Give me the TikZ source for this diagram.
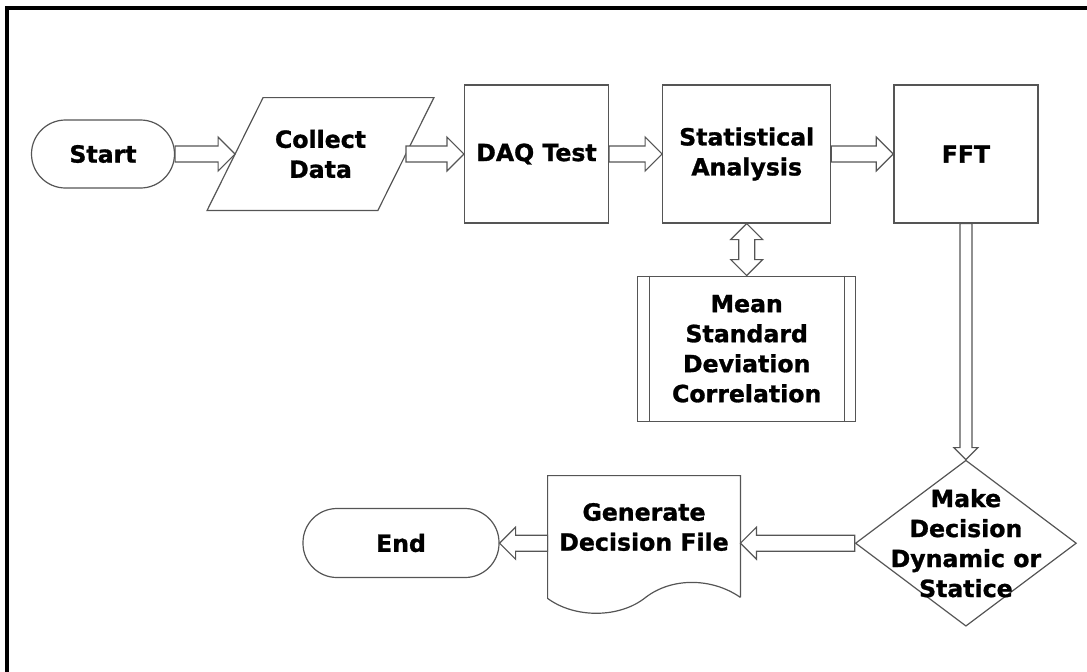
\documentclass[tikz,border=0pt]{standalone}
\usepackage{fontspec}
\setmainfont{DejaVu Sans}[BoldFeatures={FakeBold=1.2}]
\usepackage{tikz}
\usetikzlibrary{shapes.geometric, calc, positioning}

\definecolor{linegray}{RGB}{85,85,85}

% hollow block arrow: from, to, angle, shaft half width, head half width
\newcommand{\flowarrow}[5]{%
  \draw[arrowline] let \p1=(#1), \p2=(#2), \n1={veclen(\x2-\x1,\y2-\y1)} in
    {[shift={(\p1)}, rotate=#3]
     (0pt,#4) -- (\n1-#5,#4) -- (\n1-#5,#5) -- (\n1,0pt) -- (\n1-#5,-#5)
     -- (\n1-#5,-#4) -- (0pt,-#4) -- cycle};
}
% same, with a head at both ends
\newcommand{\twowayarrow}[5]{%
  \draw[arrowline] let \p1=(#1), \p2=(#2), \n1={veclen(\x2-\x1,\y2-\y1)} in
    {[shift={(\p1)}, rotate=#3]
     (0pt,0pt) -- (#5,#5) -- (#5,#4) -- (\n1-#5,#4) -- (\n1-#5,#5) -- (\n1,0pt)
     -- (\n1-#5,-#5) -- (\n1-#5,-#4) -- (#5,-#4) -- (#5,-#5) -- cycle};
}

\begin{document}
\begin{tikzpicture}[
    x=0.5pt, y=-0.5pt,
    boxline/.style={draw=linegray, line width=0.6pt},
    arrowline/.style={draw=linegray, line width=0.6pt, fill=white},
    label text/.style={font=\fontsize{11.8}{15}\selectfont\bfseries, align=center, text=black},
    box/.style={rectangle, boxline, label text, minimum width=72pt, minimum height=69pt},
    terminal/.style={rectangle, boxline, label text, rounded corners=17pt, minimum height=34pt},
    plain/.style={rectangle, label text, inner sep=0pt}
]
\useasboundingbox (0,0) rectangle (1087,671);

% frame
\draw[line width=1.6pt] (7,8) rectangle (1110,700);

% Start
\node[terminal, minimum width=71.5pt] (start) at (103,154) {Start};

% Collect Data
\node[plain, right=30pt of start, minimum width=85pt, minimum height=56pt] (collect) {Collect\\Data};
\draw[boxline] ([xshift=14pt]collect.north west) -- ([xshift=14pt]collect.north east)
  -- ([xshift=-14pt]collect.south east) -- ([xshift=-14pt]collect.south west) -- cycle;

% DAQ test
\node[box, right=29pt of collect] (daq) {DAQ Test};

% Statistics
\node[box, right=26.5pt of daq, minimum width=84pt] (stat) {Statistical\\Analysis};

% FFT
\node[box, right=31pt of stat] (fft) {FFT};

% Mean etc.
\node[box, below=26pt of stat, minimum width=109pt, minimum height=72.5pt] (mean) {Mean\\Standard\\Deviation\\Correlation};
\draw[boxline] ([xshift=6pt]mean.north west) -- ([xshift=6pt]mean.south west);
\draw[boxline] ([xshift=-6pt]mean.north east) -- ([xshift=-6pt]mean.south east);

% Decision
\node[diamond, boxline, below=118pt of fft, minimum width=110.5pt, minimum height=83pt, inner sep=0pt,
      label={[label text]center:Make\\Decision\\Dynamic or\\Statice}] (decide) {};

% Generate file
\node[plain, minimum width=96pt, minimum height=51pt] (gen) at (644,527) {Generate\\Decision File};
\draw[boxline] ([shift={(0,19)}]gen.south east) -- (gen.north east) -- (gen.north west)
  -- ([shift={(0,20)}]gen.south west)
  .. controls ([shift={(27,40)}]gen.south west) and ([shift={(72,40)}]gen.south west) .. ([shift={(98,19)}]gen.south west)
  .. controls ([shift={(124,-1)}]gen.south west) and ([shift={(164,-1)}]gen.south west) .. ([shift={(0,19)}]gen.south east);

% End
\node[terminal, minimum width=98pt, minimum height=34.5pt] (end) at (401,543) {End};

% Arrows
\flowarrow{start.east}{collect.west}{0}{4pt}{8.5pt}
\flowarrow{collect.east}{daq.west}{0}{4pt}{8.5pt}
\flowarrow{daq.east}{stat.west}{0}{4pt}{8.5pt}
\flowarrow{stat.east}{fft.west}{0}{4pt}{8.5pt}
\twowayarrow{stat.south}{mean.north}{-90}{4pt}{8pt}
\flowarrow{fft.south}{decide.north}{-90}{3pt}{6pt}
\flowarrow{decide.west}{gen.east |- decide.west}{180}{4pt}{8pt}
\flowarrow{gen.west |- decide.west}{end.east}{180}{4pt}{8pt}

\end{tikzpicture}
\end{document}
